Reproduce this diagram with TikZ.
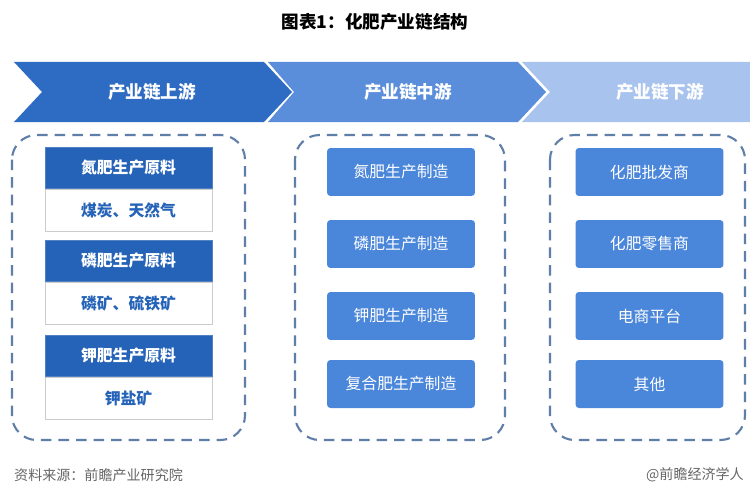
\documentclass[tikz,border=0pt]{standalone}
\usepackage{fontspec}
\setmainfont{Noto Sans CJK SC}
\usetikzlibrary{positioning}
\definecolor{upblue}{HTML}{2E6BC2}
\definecolor{midblue}{HTML}{5A8DDA}
\definecolor{lowblue}{HTML}{A8C3EE}
\definecolor{cardblue}{HTML}{2563B8}
\definecolor{boxblue}{HTML}{4A86DA}
\definecolor{dashgray}{HTML}{5F7FA8}
\begin{document}
\begin{tikzpicture}[x=0.02cm, y=-0.02cm,
    stagetext/.style={text=white, font=\bfseries\fontsize{10}{12}\selectfont},
    group/.style={draw=dashgray, dashed, dash pattern=on 6pt off 4pt, line width=1.2pt, rounded corners=14pt},
    cardhead/.style={fill=cardblue, draw=cardblue!80, minimum width=3.34cm, minimum height=0.82cm, text=white, font=\bfseries\fontsize{9}{11}\selectfont, inner sep=0pt},
    cardbody/.style={fill=white, draw=gray!40, minimum width=3.34cm, minimum height=0.84cm, text=cardblue, font=\bfseries\fontsize{9}{11}\selectfont, inner sep=0pt},
    stepbox/.style={fill=boxblue, rounded corners=2pt, minimum width=2.96cm, minimum height=0.96cm, text=white, font=\fontsize{9}{11}\selectfont, inner sep=0pt},
    ]
\useasboundingbox (0,0) rectangle (750,500);
\fill[white] (0,0) rectangle (750,500);
\node[font=\bfseries\fontsize{10}{12}\selectfont] (title) at (375,22) {图表1：化肥产业链结构};
% stage arrows
\fill[lowblue] (522,62) -- (750,62) -- (750,122) -- (522,122) -- (550,92) -- cycle;
\fill[midblue] (268,62) -- (518,62) -- (546,92) -- (518,122) -- (268,122) -- (294,92) -- cycle;
\fill[upblue] (14,62) -- (264,62) -- (292,92) -- (264,122) -- (14,122) -- (42,92) -- cycle;
\node[stagetext] (up) at (152,92) {产业链上游};
\node[stagetext] (mid) at (408,92) {产业链中游};
\node[stagetext] (low) at (660,92) {产业链下游};
% groups
\draw[group] (12,135) rectangle (245,440);
\draw[group] (295,135) rectangle (505,440);
\draw[group] (550,135) rectangle (745,440);
% upstream cards
\foreach \y/\head/\body [count=\i] in {147/氮肥生产原料/煤炭、天然气, 240/磷肥生产原料/磷矿、硫铁矿, 335/钾肥生产原料/钾盐矿}{
  \node[cardhead, anchor=north] (head\i) at (128.5,\y) {\head};
  \node[cardbody, below=0pt of head\i] (body\i) {\body};
}
% midstream and downstream boxes
\foreach \y/\mtext/\ltext [count=\i] in {172/氮肥生产制造/化肥批发商, 244/磷肥生产制造/化肥零售商, 316/钾肥生产制造/电商平台, 384/复合肥生产制造/其他}{
  \node[stepbox] (make\i) at (401,\y) {\mtext};
  \node[stepbox] (sell\i) at (649.5,\y) {\ltext};
}
% footer
\node[anchor=west, font=\fontsize{8}{10}\selectfont, text=gray!80!black] (src) at (8,475) {资料来源：前瞻产业研究院};
\node[anchor=east, font=\fontsize{8}{10}\selectfont, text=gray!80!black] (mark) at (750,475) {@前瞻经济学人};
\end{tikzpicture}
\end{document}
